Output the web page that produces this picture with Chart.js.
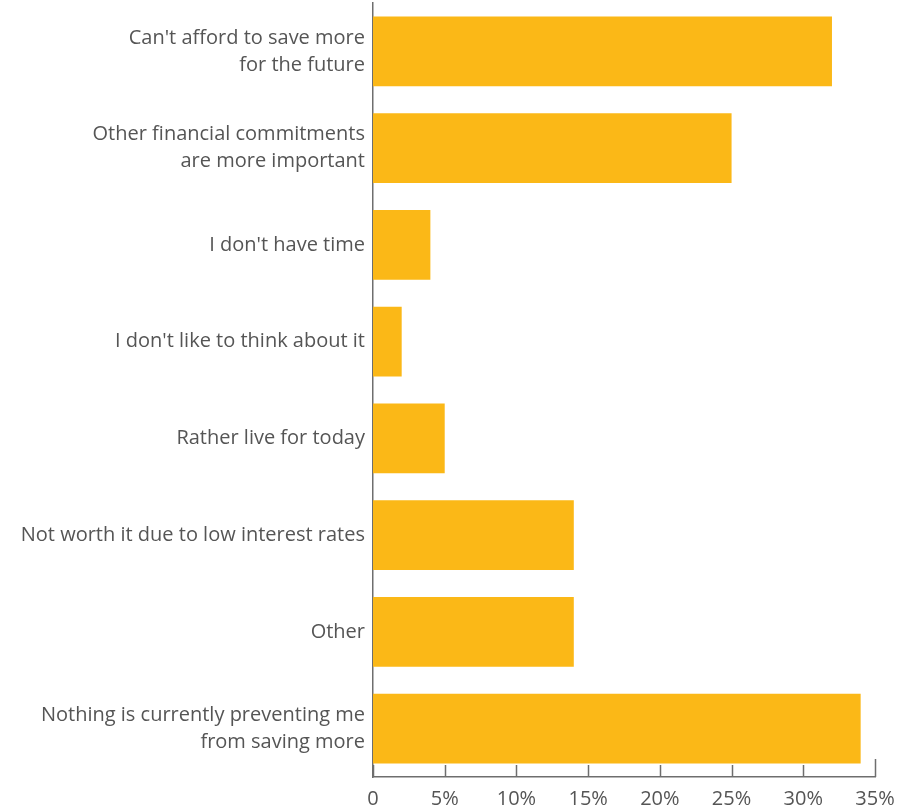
<!DOCTYPE html>
<html>
<head>
<meta charset="utf-8">
<script src="https://cdn.jsdelivr.net/npm/chart.js@4.4.1/dist/chart.umd.min.js"></script>
<style>
  html, body { margin: 0; padding: 0; background: #fff; }
  #wrap { width: 919px; height: 812px; position: relative; }
</style>
</head>
<body>
<div id="wrap"><canvas id="chart"></canvas></div>
<script>
const reasons = [
  ["Can't afford to save more", "for the future"],
  ["Other financial commitments", "are more important"],
  "I don't have time",
  "I don't like to think about it",
  "Rather live for today",
  "Not worth it due to low interest rates",
  "Other",
  ["Nothing is currently preventing me", "from saving more"],
];
const shares = [32, 25, 4, 2, 5, 14, 14, 34];
const xTicks = [0, 5, 10, 15, 20, 25, 30, 35];

const barColor = "#fbb817";
const axisColor = "#6e6e6e";
const textColor = "#555555";

// small tick marks standing up from the bottom axis
const innerTicks = {
  id: "innerTicks",
  afterDraw(chart) {
    const x = chart.scales.x;
    const ctx = chart.ctx;
    const bottom = chart.chartArea.bottom;
    ctx.save();
    ctx.strokeStyle = axisColor;
    ctx.lineWidth = 1.5;
    xTicks.forEach((v, i) => {
      const px = Math.round(x.getPixelForValue(v)) + 0.5;
      const len = i === xTicks.length - 1 ? 18 : 12;
      ctx.beginPath();
      ctx.moveTo(px, bottom);
      ctx.lineTo(px, bottom - len);
      ctx.stroke();
    });
    ctx.restore();
  },
};

new Chart(document.getElementById("chart"), {
  type: "bar",
  plugins: [innerTicks],
  data: {
    labels: reasons,
    datasets: [{
      data: shares,
      backgroundColor: barColor,
      barPercentage: 0.723,
      categoryPercentage: 1,
    }],
  },
  options: {
    indexAxis: "y",
    responsive: true,
    maintainAspectRatio: false,
    animation: false,
    layout: { padding: { top: 3, right: 44, bottom: 0, left: 0 } },
    plugins: {
      legend: { display: false },
      tooltip: { enabled: false },
    },
    scales: {
      x: {
        min: 0,
        max: 35,
        afterBuildTicks: (scale) => {
          scale.ticks = xTicks.map((v) => ({ value: v }));
        },
        afterFit: (scale) => {
          scale.height = 35;
          scale.paddingLeft = 0;
          scale.paddingRight = 0;
        },
        grid: { display: false, drawTicks: false },
        border: { display: true, color: axisColor, width: 1.5 },
        ticks: {
          padding: 10,
          color: textColor,
          font: { family: "Open Sans", size: 20 },
          callback: (v) => (v === 0 ? "0" : v + "%"),
          maxRotation: 0,
        },
      },
      y: {
        afterFit: (scale) => {
          scale.width = 373;
          scale.paddingTop = 0;
          scale.paddingBottom = 0;
        },
        grid: { display: false, drawTicks: false },
        border: { display: true, color: axisColor, width: 1.5 },
        ticks: {
          padding: 8,
          color: textColor,
          font: { family: "Open Sans", size: 20, lineHeight: 1.35 },
        },
      },
    },
  },
});
</script>
</body>
</html>
